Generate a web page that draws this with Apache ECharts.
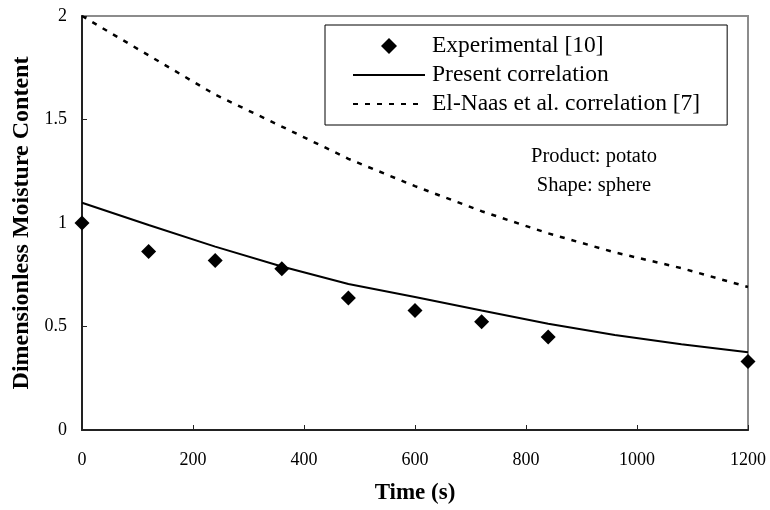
<!DOCTYPE html>
<html>
<head>
<meta charset="utf-8">
<script src="https://cdn.jsdelivr.net/npm/echarts@6/dist/echarts.min.js"></script>
<style>html,body{margin:0;padding:0;background:#fff}#c{width:770px;height:510px}</style>
</head>
<body>
<div id="c"></div>
<script>
var curveTime = [0, 120, 240, 360, 480, 600, 720, 840, 960, 1080, 1200];
var presentCorr = [1.098, 0.99, 0.886, 0.79, 0.705, 0.643, 0.577, 0.513, 0.459, 0.414, 0.376];
var elNaasCorr = [2.0, 1.81, 1.62, 1.466, 1.31, 1.178, 1.057, 0.95, 0.858, 0.782, 0.691];
var expTime = [0, 120, 240, 360, 480, 600, 720, 840, 1200];
var expValues = [1.0, 0.862, 0.819, 0.779, 0.638, 0.577, 0.523, 0.449, 0.331];
var xTicks = [0, 200, 400, 600, 800, 1000, 1200];
var yTicks = [0, 0.5, 1, 1.5, 2];

function pairs(xs, ys) { return xs.map(function (x, i) { return [x, ys[i]]; }); }

var serif = "'Liberation Serif', 'Times New Roman', serif";
var chart = echarts.init(document.getElementById('c'));
chart.setOption({
  animation: false,
  backgroundColor: '#fff',
  grid: { left: 82, right: 22, top: 16, bottom: 77, show: true, borderColor: '#8c8c8c', borderWidth: 2, backgroundColor: 'transparent' },
  xAxis: {
    type: 'value', min: xTicks[0], max: xTicks[xTicks.length - 1], interval: 200,
    name: 'Time (s)', nameLocation: 'middle', nameGap: 52,
    nameTextStyle: { fontFamily: serif, fontSize: 23, fontWeight: 'bold', color: '#000' },
    axisLine: { lineStyle: { color: '#222', width: 2 } },
    axisTick: { inside: true, length: 5, lineStyle: { color: '#222' } },
    axisLabel: { fontFamily: serif, fontSize: 18, color: '#000', margin: 21, formatter: function (v) { return String(v); } },
    splitLine: { show: false }
  },
  yAxis: {
    type: 'value', min: yTicks[0], max: yTicks[yTicks.length - 1], interval: 0.5,
    name: 'Dimensionless Moisture Content', nameLocation: 'middle', nameGap: 46,
    nameTextStyle: { fontFamily: serif, fontSize: 24, fontWeight: 'bold', color: '#000' },
    axisLine: { lineStyle: { color: '#222', width: 2 } },
    axisTick: { inside: true, length: 5, lineStyle: { color: '#222' } },
    axisLabel: { fontFamily: serif, fontSize: 18, color: '#000', margin: 15, formatter: function (v) { return String(v); } },
    splitLine: { show: false }
  },
  legend: {
    left: 325, top: 25, orient: 'vertical',
    borderColor: '#000', borderWidth: 1,
    padding: [9, 27, 9, 27],
    itemWidth: 72, itemHeight: 16, itemGap: 5,
    textStyle: { fontFamily: serif, fontSize: 23.5, color: '#000', lineHeight: 22, padding: [0, 0, 0, 2] },
    data: [
      { name: 'Experimental [10]', icon: 'path://M0,0 M72,16 M28,8 L36,0 L44,8 L36,16 Z', itemStyle: { color: '#000', opacity: 1 } },
      { name: 'Present correlation', itemStyle: { opacity: 0 } },
      { name: 'El-Naas et al. correlation [7]', itemStyle: { opacity: 0 } }
    ]
  },
  graphic: [
    { type: 'text', style: { text: 'Product: potato', x: 594, y: 157, textAlign: 'center', textVerticalAlign: 'middle', font: '20.5px ' + serif, fill: '#000' } },
    { type: 'text', style: { text: 'Shape: sphere', x: 594, y: 186, textAlign: 'center', textVerticalAlign: 'middle', font: '20.5px ' + serif, fill: '#000' } }
  ],
  series: [
    {
      name: 'Experimental [10]', type: 'scatter', symbol: 'diamond', symbolSize: 15,
      itemStyle: { color: '#000', opacity: 1 }, data: pairs(expTime, expValues), z: 5
    },
    {
      name: 'Present correlation', type: 'line', showSymbol: false, symbol: 'none',
      lineStyle: { color: '#000', width: 2 }, itemStyle: { color: '#000' },
      data: pairs(curveTime, presentCorr)
    },
    {
      name: 'El-Naas et al. correlation [7]', type: 'line', showSymbol: false, symbol: 'none',
      lineStyle: { color: '#000', width: 2.5, type: [5, 7] }, itemStyle: { color: '#000' },
      data: pairs(curveTime, elNaasCorr)
    }
  ]
});
</script>
</body>
</html>
